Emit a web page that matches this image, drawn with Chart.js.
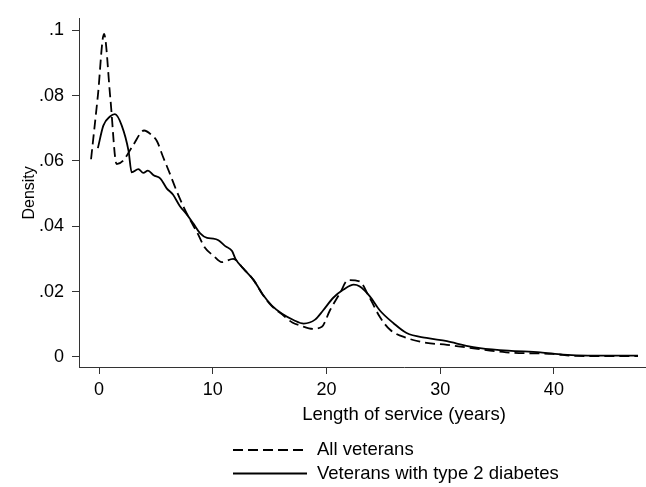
<!DOCTYPE html>
<html><head><meta charset="utf-8">
<script src="https://cdn.jsdelivr.net/npm/chart.js@4/dist/chart.umd.min.js"></script>
<style>html,body{margin:0;padding:0;background:#fff;overflow:hidden}#wrap{width:646px;height:487px;overflow:hidden;position:relative}canvas{display:block}</style>
</head><body><div id="wrap"><canvas id="c" width="730" height="487"></canvas></div>
<script>
const seriesLabels = ['All veterans', 'Veterans with type 2 diabetes'];
const allX = [-0.7, -0.1, 0.44, 1.0, 1.55, 2.1, 3.0, 3.96, 4.6, 5.1, 5.6, 6.24, 6.8, 7.4, 8.0, 8.6, 9.3, 10.05, 10.8, 11.8, 12.7, 13.6, 14.4, 15.2, 16.1, 17.0, 17.7, 18.8, 19.6, 20.3, 21.2, 21.9, 22.9, 23.8, 24.7, 25.6, 27.05, 28.8, 30.6, 32.3, 35.8, 39.9, 42.0, 47.4];
const allY = [0.0605, 0.080, 0.0989, 0.079, 0.059, 0.060, 0.0648, 0.0693, 0.068, 0.066, 0.0615, 0.056, 0.051, 0.0462, 0.042, 0.0383, 0.0335, 0.031, 0.029, 0.030, 0.027, 0.0235, 0.019, 0.0155, 0.013, 0.0105, 0.0096, 0.0086, 0.0092, 0.0142, 0.0196, 0.0235, 0.0231, 0.0181, 0.0122, 0.0083, 0.0058, 0.0043, 0.0037, 0.0029, 0.0014, 0.0009, 0.0003, 0.0002];
const t2dX = [-0.1, 0.38, 0.97, 1.4, 2.0, 2.6, 2.87, 3.46, 3.9, 4.3, 4.8, 5.4, 5.95, 6.5, 7.1, 7.7, 8.3, 8.9, 9.5, 10.05, 10.5, 11.1, 11.7, 12.0, 12.7, 13.6, 14.4, 15.2, 16.1, 17.1, 18.0, 19.0, 19.7, 20.6, 21.5, 22.4, 22.9, 23.8, 24.7, 25.9, 27.05, 28.8, 30.6, 32.3, 33.5, 36.0, 38.8, 40.8, 43.0, 47.4];
const t2dY = [0.0639, 0.0708, 0.0736, 0.0743, 0.0708, 0.063, 0.0565, 0.0575, 0.0563, 0.057, 0.0556, 0.0546, 0.0516, 0.0497, 0.0462, 0.0437, 0.0408, 0.0378, 0.0364, 0.0362, 0.0357, 0.0339, 0.0324, 0.030, 0.027, 0.0235, 0.0191, 0.0157, 0.0132, 0.0113, 0.0102, 0.0114, 0.0142, 0.0181, 0.0206, 0.0221, 0.0216, 0.0186, 0.0142, 0.0103, 0.0073, 0.0058, 0.0048, 0.0034, 0.0027, 0.0019, 0.0014, 0.0007, 0.0004, 0.0004];
const xTicks = [0, 10, 20, 30, 40];
const yTicks = [0, 0.02, 0.04, 0.06, 0.08, 0.1];
const yTickLabels = ['0', '.02', '.04', '.06', '.08', '.1'];
const xTitle = 'Length of service (years)';
const yTitle = 'Density';

const FAMILY = '"Liberation Sans", Arial, Helvetica, sans-serif';
const AXIS = '#333';

const legendPlugin = {
  id: 'stataLegend',
  afterDraw(chart) {
    const ctx = chart.ctx;
    const x0 = 233, x1 = 307, tx = 317;
    const ys = [450, 473.5];
    ctx.save();
    chart.data.datasets.forEach((ds, i) => {
      ctx.beginPath();
      ctx.setLineDash(ds.borderDash || []);
      ctx.lineWidth = 1.8;
      ctx.strokeStyle = ds.borderColor;
      ctx.moveTo(x0, ys[i]); ctx.lineTo(x1, ys[i]);
      ctx.stroke();
      ctx.setLineDash([]);
      ctx.font = '18.5px ' + FAMILY;
      ctx.fillStyle = '#000';
      ctx.textBaseline = 'middle';
      ctx.textAlign = 'left';
      ctx.fillText(ds.label, tx, ys[i]);
    });
    ctx.restore();
  }
};

const mk = (xs, ys) => xs.map((x, i) => ({x: x, y: ys[i]}));

new Chart(document.getElementById('c'), {
  type: 'scatter',
  data: {
    datasets: [
      {label: seriesLabels[0], data: mk(allX, allY), showLine: true, borderColor: '#000', borderWidth: 1.8,
       borderDash: [10, 5], pointRadius: 0, cubicInterpolationMode: 'monotone', fill: false},
      {label: seriesLabels[1], data: mk(t2dX, t2dY), showLine: true, borderColor: '#000', borderWidth: 1.8,
       borderDash: [], pointRadius: 0, cubicInterpolationMode: 'monotone', fill: false}
    ]
  },
  options: {
    responsive: false, animation: false,
    layout: {padding: {left: 0, right: 1, top: 7, bottom: 0}},
    plugins: {legend: {display: false}, tooltip: {enabled: false}},
    scales: {
      x: {
        type: 'linear', min: -1.76, max: 55.4,
        afterBuildTicks: s => { s.ticks = xTicks.map(v => ({value: v})); },
        afterFit: s => { s.height = 120; },
        grid: {drawOnChartArea: false, drawTicks: true, tickLength: 7, color: AXIS, tickWidth: 1},
        border: {display: true, color: AXIS, width: 1},
        ticks: {color: '#000', font: {family: FAMILY, size: 18}, padding: 5, maxRotation: 0, autoSkip: false,
                callback: v => String(v)},
        title: {display: true, text: xTitle, color: '#000', font: {family: FAMILY, size: 18.5}, padding: {top: 0, bottom: 61}}
      },
      y: {
        type: 'linear', min: -0.0031, max: 0.1035,
        afterBuildTicks: s => { s.ticks = yTicks.map(v => ({value: v})); },
        afterFit: s => { s.width = 79; },
        grid: {drawOnChartArea: false, drawTicks: true, tickLength: 7, color: AXIS, tickWidth: 1},
        border: {display: true, color: AXIS, width: 1},
        ticks: {color: '#000', font: {family: FAMILY, size: 18}, padding: 8, autoSkip: false,
                callback: v => { const i = yTicks.findIndex(t => Math.abs(t - v) < 1e-9); return i >= 0 ? yTickLabels[i] : ''; }},
        title: {display: true, text: yTitle, color: '#000', font: {family: FAMILY, size: 16}, padding: {top: 20, bottom: 0}}
      }
    }
  },
  plugins: [legendPlugin]
});
</script></body></html>
